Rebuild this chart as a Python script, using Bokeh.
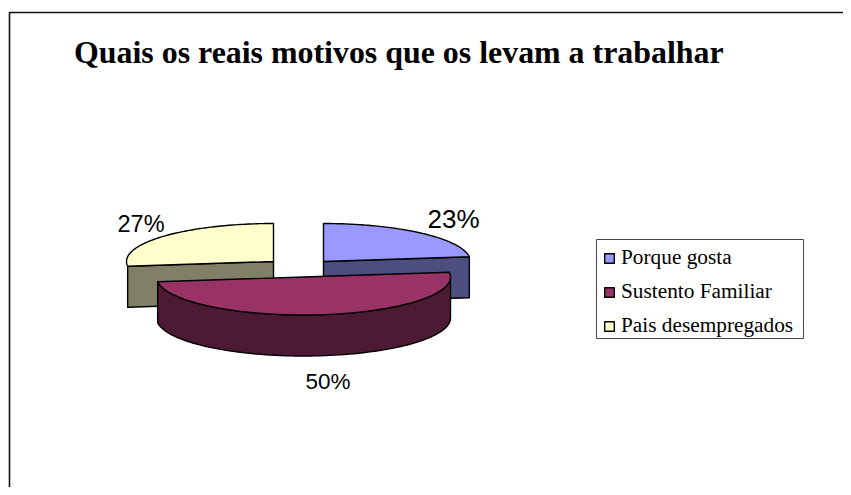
import numpy as np
from bokeh.embed import file_html
from bokeh.resources import INLINE
from bokeh.plotting import figure
from bokeh.models import Legend, LegendItem, Range1d
from bokeh.core.properties import value

title = "Quais os reais motivos que os levam a trabalhar"
categories = ["Porque gosta", "Sustento Familiar", "Pais desempregados"]
values = [23, 50, 27]
labels = ["23%", "50%", "27%"]
top_colors = ["#9999FF", "#993366", "#FFFFCC"]
side_colors = ["#4D4D80", "#4D1A33", "#808066"]

W, H = 843, 487
p = figure(width=W, height=H, output_backend="svg", toolbar_location=None,
           x_range=Range1d(0, W), y_range=Range1d(H, 0), min_border=0,
           x_axis_type=None, y_axis_type=None, outline_line_color=None)
p.grid.visible = False

# frame (open on the right and bottom, cropped by the picture)
p.line([9, 9, W], [H, 12, 12], line_color="#111111", line_width=1.6)

RX, RY, DEPTH = 147, 38, 41
# exploded slice centres
centres = [(323, 261), (303, 276.5), (273, 261)]

fracs = np.array(values) / sum(values)
ends = np.cumsum(fracs) * 2 * np.pi
starts = ends - fracs * 2 * np.pi


def rim(c, a0, a1, dy=0.0):
    t = np.linspace(a0, a1, 90)
    return c[0] + RX * np.sin(t), c[1] - RY * np.cos(t) + dy


def cut_face(c, a):
    x, y = c[0] + RX * np.sin(a), c[1] - RY * np.cos(a)
    return [c[0], x, x, c[0]], [c[1], y, y + DEPTH, c[1] + DEPTH]


LINE = dict(line_color="black", line_width=1.4, line_join="round")

# rear slices: blue (0) and yellow (2)
xs, ys = cut_face(centres[2], starts[2])
p.patch(xs, ys, fill_color=side_colors[2], **LINE)
xs, ys = cut_face(centres[0], ends[0])
p.patch(xs, ys, fill_color=side_colors[0], **LINE)

tops = {}
for i in (0, 2):
    rx, ry = rim(centres[i], starts[i], ends[i])
    tops[i] = p.patch(np.r_[centres[i][0], rx], np.r_[centres[i][1], ry],
                      fill_color=top_colors[i], **LINE)

# front slice: outer wall, then top
a0 = max(starts[1], np.pi / 2)
tx, ty = rim(centres[1], a0, ends[1])
bx, by = rim(centres[1], ends[1], a0, DEPTH)
p.patch(np.r_[tx, bx], np.r_[ty, by], fill_color=side_colors[1], **LINE)
rx, ry = rim(centres[1], starts[1], ends[1])
tops[1] = p.patch(np.r_[centres[1][0], rx], np.r_[centres[1][1], ry],
                  fill_color=top_colors[1], **LINE)

# title
p.text([73.5], [52], text=[title], text_font=value("Liberation Serif"),
       text_font_style="bold", text_font_size="31.9px", text_color="black",
       text_baseline="alphabetic")

# data labels
p.text([427], [218], text=[labels[0]], text_font=value("Liberation Sans"),
       text_font_size="26px", text_color="black", text_baseline="alphabetic")
p.text([305], [381], text=[labels[1]], text_font=value("Liberation Sans"),
       text_font_size="22.5px", text_color="black", text_baseline="alphabetic")
p.text([117], [223], text=[labels[2]], text_font=value("Liberation Sans"),
       text_font_size="23.5px", text_color="black", text_baseline="alphabetic")

# legend box, with the legend itself placed inside it
p.quad(left=[596], right=[803], top=[239], bottom=[338], fill_color="white",
       line_color="#444444", line_width=1)
legend = Legend(
    items=[LegendItem(label=c, renderers=[tops[i]]) for i, c in enumerate(categories)],
    location=(603, H - 338), orientation="vertical",
    label_text_font="Liberation Serif", label_text_font_size="21.3px",
    label_text_color="black", label_standoff=6,
    glyph_width=12, glyph_height=12, spacing=9, padding=0, margin=0,
    label_height=24, label_width=170,
    border_line_color=None, background_fill_alpha=0,
)
p.add_layout(legend, "center")

open("out.html", "w").write(file_html(p, INLINE))
